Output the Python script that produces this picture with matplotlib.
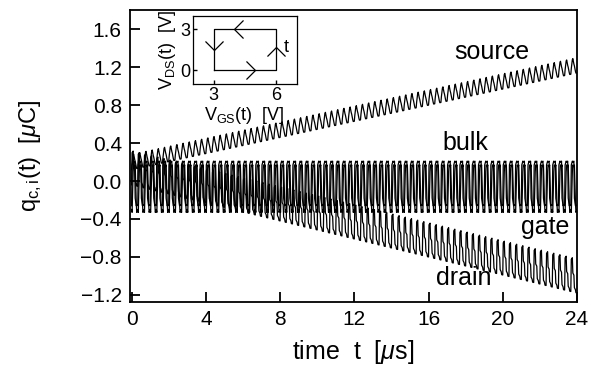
import numpy as np
import matplotlib
matplotlib.use('Agg')
import matplotlib.pyplot as plt

plt.rcParams['font.family'] = ['Liberation Sans', 'DejaVu Sans']
plt.rcParams['mathtext.fontset'] = 'custom'
plt.rcParams['mathtext.rm'] = 'Liberation Sans'
plt.rcParams['mathtext.it'] = 'Liberation Sans:italic'

# Zeitachse: 72 Perioden in 24 us
t_end = 24.0
n_periods = 72

# Form einer Periode (Phasenbruchteile) und Ladungswerte je Anschluss [uC]
frac = [0.0, 0.08, 0.25, 0.33, 0.5, 0.58, 0.75, 0.83]
bulk_wave = [-0.26, 0.17, 0.21, 0.20, 0.21, -0.18, -0.26, -0.25]
gate_wave = [-0.30, -0.33, 0.10, 0.17, 0.15, 0.17, -0.22, -0.33]
source_wave = [0.0, 0.06, 0.15, 0.16, 0.10, 0.08, 0.02, 0.0]
drain_wave = [0.0, 0.34, 0.36, 0.20, 0.18, 0.05, 0.03, 0.0]

# Drift (unterer Rand) von Source und Drain am Anfang und Ende
source_base = [0.12, 1.14]
drain_base = [-0.04, -1.18]

# Inset: Zyklus V_GS / V_DS
vgs_cycle = [3, 6, 6, 3, 3]
vds_cycle = [0, 0, 3, 3, 0]


def periodic(wave):
    T = t_end / n_periods
    k = np.arange(n_periods)[:, None]
    t = ((k + np.array(frac)[None, :]) * T).ravel()
    y = np.tile(wave, n_periods)
    t = np.append(t, t_end)
    y = np.append(y, wave[0])
    return t, y


fig = plt.figure(figsize=(6.08, 3.70), dpi=100)
ax = fig.add_axes([0.214, 0.184, 0.735, 0.789])

t, yb = periodic(bulk_wave)
ax.plot(t, yb, color='black', lw=0.9)
t, yg = periodic(gate_wave)
ax.plot(t, yg, color='black', lw=0.9)
t, ys = periodic(source_wave)
ax.plot(t, ys + np.interp(t, [0, t_end], source_base), color='black', lw=0.9)
t, yd = periodic(drain_wave)
ax.plot(t, yd + np.interp(t, [0, t_end], drain_base), color='black', lw=0.9)

ax.set_xlim(-0.08, 24)
ax.set_ylim(-1.274, 1.803)
ax.set_xticks(np.arange(0, 25, 4))
ax.set_yticks(np.arange(-1.2, 1.7, 0.4))
ax.set_yticklabels(['\u22121.2', '\u22120.8', '\u22120.4', '0.0', '0.4', '0.8', '1.2', '1.6'])
ax.tick_params(direction='in', length=7, width=1.3, labelsize=15, pad=6)
for s in ax.spines.values():
    s.set_linewidth(1.3)
ax.set_xlabel(r'time  t  [$\mu$s]', fontsize=18, labelpad=6)
ax.set_ylabel(r'q$_{\mathregular{c,i}}$(t)  [$\mu$C]', fontsize=17, labelpad=26)

ax.text(19.4, 1.36, 'source', fontsize=18, ha='center', va='center')
ax.text(18.0, 0.40, 'bulk', fontsize=18, ha='center', va='center')
ax.text(22.3, -0.48, 'gate', fontsize=18, ha='center', va='center')
ax.text(17.9, -1.02, 'drain', fontsize=18, ha='center', va='center')

# Inset
ins = fig.add_axes([0.317, 0.773, 0.171, 0.185])
ins.plot(vgs_cycle, vds_cycle, color='black', lw=0.9)
chev = [(-1, 1), (0, 0), (-1, -1)]
for x, y, ang in [(5.0, 0, 0), (6, 1.7, 90), (4.0, 3, 180), (3, 1.5, 270)]:
    r = np.deg2rad(ang)
    verts = [(px * np.cos(r) - py * np.sin(r), px * np.sin(r) + py * np.cos(r)) for px, py in chev]
    ins.plot([x], [y], marker=verts, markersize=13, markerfacecolor='none',
             markeredgecolor='black', markeredgewidth=0.9, linestyle='none')
ins.text(6.5, 1.7, 't', fontsize=13, ha='center', va='center')
ins.set_xlim(2, 7)
ins.set_ylim(-1, 4)
ins.set_xticks([3, 6])
ins.set_yticks([0, 3])
ins.tick_params(direction='in', length=3, width=1, labelsize=13, pad=2)
for s in ins.spines.values():
    s.set_linewidth(0.9)
ins.set_xlabel(r'V$_{\mathregular{GS}}$(t)  [V]', fontsize=13, labelpad=1)
ins.set_ylabel(r'V$_{\mathregular{DS}}$(t)  [V]', fontsize=13, labelpad=1)

fig.savefig('out.png', dpi=100)
